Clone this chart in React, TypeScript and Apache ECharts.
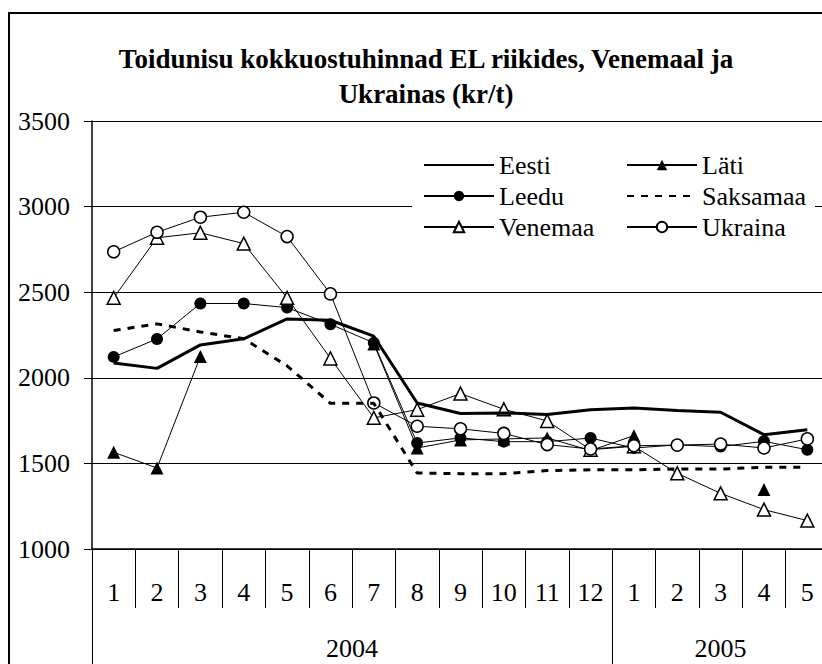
import React, { useEffect, useRef } from "react";
import * as echarts from "echarts";

const months = ["1", "2", "3", "4", "5", "6", "7", "8", "9", "10", "11", "12", "1", "2", "3", "4", "5"];
const years = ["2004", "2005"];
const yearStarts = [0, 12];
const yearCenters = [6, 14.5];
const yTicks = [1000, 1500, 2000, 2500, 3000, 3500];

const eesti = [2087, 2055, 2192, 2228, 2344, 2336, 2243, 1853, 1791, 1795, 1785, 1814, 1824, 1809, 1799, 1668, 1697];
const lati = [1565, 1473, 2125, null, null, null, 2198, 1590, 1637, 1643, 1649, 1575, 1662, null, null, 1348, null];
const leedu = [2122, 2227, 2434, 2434, 2410, 2313, 2204, 1619, 1649, 1627, 1627, 1648, 1590, 1608, 1598, 1629, 1580];
const saksamaa = [2276, 2315, 2268, 2228, 2070, 1851, 1851, 1444, 1440, 1440, 1458, 1463, 1463, 1467, 1467, 1478, 1478];
const venemaa = [2467, 2818, 2847, 2784, 2467, 2113, 1766, 1814, 1908, 1816, 1748, 1580, 1600, 1442, 1325, 1230, 1166];
const ukraina = [2736, 2850, 2938, 2967, 2825, 2490, 1853, 1717, 1702, 1675, 1610, 1584, 1603, 1607, 1613, 1590, 1643];

const FONT = "Liberation Serif";

export default function App() {
  const ref = useRef<HTMLDivElement>(null);
  useEffect(() => {
    if (!ref.current) return;
    const chart = echarts.init(ref.current, undefined, { renderer: "svg" });
    const thin = { color: "#000", width: 1 };
    const legendBase = {
      orient: "vertical",
      top: 150,
      padding: 0,
      itemWidth: 70,
      itemHeight: 13,
      itemGap: 1,
      textStyle: { fontFamily: FONT, fontSize: 26, color: "#000", lineHeight: 30 },
      selectedMode: false,
    };
    const noSymbol = { itemStyle: { opacity: 0 } };
    chart.setOption({
      animation: false,
      backgroundColor: "#fff",
      textStyle: { fontFamily: FONT, color: "#000" },
      title: {
        text: "Toidunisu kokkuostuhinnad EL riikides, Venemaal ja\nUkrainas (kr/t)",
        left: 421,
        top: 36,
        textAlign: "center",
        textStyle: { fontFamily: FONT, fontSize: 27, fontWeight: "bold", color: "#000", lineHeight: 35 },
      },
      graphic: [
        {
          type: "rect",
          z: -10,
          silent: true,
          shape: { x: 9, y: 13, width: 900, height: 900 },
          style: { fill: "none", stroke: "#000", lineWidth: 2 },
        },
        {
          type: "rect",
          z: 3,
          silent: true,
          shape: { x: 412, y: 145, width: 403, height: 95 },
          style: { fill: "#fff" },
        },
      ],
      legend: [
        {
          ...legendBase,
          left: 423,
          data: [{ name: "Eesti", ...noSymbol }, { name: "Leedu" }, { name: "Venemaa" }],
        },
        {
          ...legendBase,
          left: 626,
          data: [{ name: "Läti" }, { name: "Saksamaa", ...noSymbol }, { name: "Ukraina" }],
        },
      ],
      grid: { left: 92, top: 121, width: 737, height: 428, containLabel: false, outerBoundsMode: "none" },
      xAxis: [
        {
          type: "category",
          data: months,
          position: "bottom",
          boundaryGap: true,
          axisLine: { show: true, lineStyle: { color: "#000", width: 1.5 } },
          axisTick: { show: true, length: 59, interval: 0, lineStyle: { color: "#000", width: 1 } },
          axisLabel: { interval: 0, margin: 30, fontFamily: FONT, fontSize: 26, color: "#000" },
          splitLine: { show: false },
        },
        {
          type: "category",
          data: months,
          position: "bottom",
          boundaryGap: true,
          axisLine: { show: false },
          axisTick: {
            show: true,
            length: 118,
            interval: (i: number) => yearStarts.includes(i),
            lineStyle: { color: "#000", width: 1 },
          },
          axisLabel: { show: false },
          splitLine: { show: false },
        },
        {
          type: "value",
          min: 0,
          max: months.length,
          interval: 0.5,
          position: "bottom",
          axisLine: { show: false },
          axisTick: { show: false },
          splitLine: { show: false },
          axisLabel: {
            margin: 86,
            fontFamily: FONT,
            fontSize: 26,
            color: "#000",
            showMinLabel: true,
            showMaxLabel: true,
            formatter: (v: number) => {
              const k = yearCenters.indexOf(v);
              return k >= 0 ? years[k] : "";
            },
          },
        },
      ],
      yAxis: {
        type: "value",
        min: yTicks[0],
        max: yTicks[yTicks.length - 1],
        interval: 500,
        axisLine: { show: true, lineStyle: { color: "#000", width: 1.5 } },
        axisTick: { show: true, length: 8, lineStyle: { color: "#000" } },
        axisLabel: {
          margin: 22,
          fontFamily: FONT,
          fontSize: 26,
          color: "#000",
          formatter: (v: number) => String(v),
        },
        splitLine: { show: true, lineStyle: { color: "#000", width: 1 } },
      },
      series: [
        {
          name: "Eesti",
          type: "line",
          data: eesti,
          symbol: "none",
          lineStyle: { color: "#000", width: 3 },
          itemStyle: { color: "#000" },
          z: 5,
        },
        {
          name: "Läti",
          type: "line",
          data: lati,
          connectNulls: false,
          symbol: "triangle",
          symbolSize: 13,
          lineStyle: thin,
          itemStyle: { color: "#000" },
          z: 3,
        },
        {
          name: "Leedu",
          type: "line",
          data: leedu,
          symbol: "circle",
          symbolSize: 12,
          lineStyle: thin,
          itemStyle: { color: "#000" },
          z: 4,
        },
        {
          name: "Saksamaa",
          type: "line",
          data: saksamaa,
          symbol: "none",
          lineStyle: { color: "#000", width: 3, type: [7, 7] },
          itemStyle: { color: "#000" },
          z: 5,
        },
        {
          name: "Venemaa",
          type: "line",
          data: venemaa,
          symbol: "triangle",
          symbolSize: 13,
          lineStyle: thin,
          itemStyle: { color: "#fff", borderColor: "#000", borderWidth: 1.5 },
          z: 4,
        },
        {
          name: "Ukraina",
          type: "line",
          data: ukraina,
          symbol: "circle",
          symbolSize: 12,
          lineStyle: thin,
          itemStyle: { color: "#fff", borderColor: "#000", borderWidth: 1.5 },
          z: 4,
        },
      ],
    });
    return () => chart.dispose();
  }, []);
  return (
    <div
      ref={ref}
      style={{ position: "absolute", left: 0, top: 0, width: 822, height: 664, overflow: "hidden" }}
    />
  );
}
